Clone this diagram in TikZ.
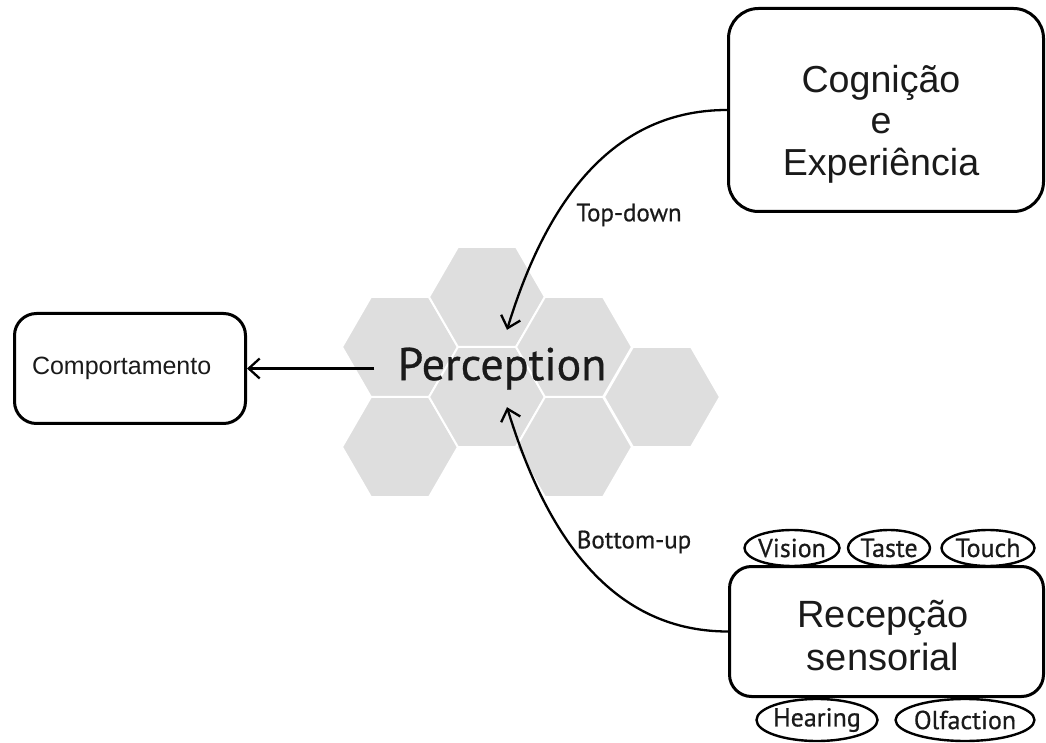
\documentclass[tikz,border=0pt]{standalone}
\usepackage{fontspec}
\setmainfont{Liberation Sans}
\newfontfamily\labelfont[FakeBold=0.6]{PT Sans}
\usetikzlibrary{arrows.meta,shapes.geometric}
\definecolor{hexgray}{RGB}{222,222,222}
\definecolor{ink}{RGB}{26,26,26}
\tikzset{
  bigbox/.style={draw,line width=3pt,rounded corners=30pt,inner sep=0pt},
  boxtext/.style={text=ink,align=center,font=\fontsize{37.6}{41.5}\selectfont},
  sense/.style={draw,ellipse,line width=2.4pt,inner xsep=-2pt,inner ysep=-1pt,minimum height=36pt,fill=white,text=ink,font=\labelfont\fontsize{26}{26}\selectfont},
  arr/.style={line width=2.3pt,-{Straight Barb[length=11pt,width=20pt,line width=2.3pt]}}
}
\begin{document}
\begin{tikzpicture}[x=1pt,y=1pt]
\useasboundingbox (0,0) rectangle (1046,742);
\foreach \cx/\cy in {400/395,400/295,487/445,487/345,574/395,574/295,662/345}
  \filldraw[fill=hexgray,draw=white,line width=2pt] (\cx,\cy) +(0:58) -- +(60:58) -- +(120:58) -- +(180:58) -- +(240:58) -- +(300:58) -- cycle;
\node[text=ink,font=\labelfont\fontsize{46}{46}\selectfont,minimum width=255pt,minimum height=77pt,inner sep=0pt] (perc) at (502,373.5) {Perception};
\node[bigbox,minimum width=315pt,minimum height=203pt] (cogbox) at (886,632) {};
\node[boxtext] (cog) at (881,618) {Cognição\\e\\Experiência};
\node[bigbox,rounded corners=22pt,minimum width=231pt,minimum height=110pt,text width=196pt,inner xsep=17.5pt,align=left,text=ink,font=\fontsize{25}{25}\selectfont] (comp) at (130,373.5) {Comportamento};
\node[bigbox,rounded corners=22pt,minimum width=314pt,minimum height=130pt] (recep) at (886.5,110.5) {};
\node[boxtext,font=\fontsize{38}{43}\selectfont] (receptext) at (883,106) {Recepção\\sensorial};
\node[sense,minimum width=95pt] (vision) at (792,194) {Vision};
\node[sense,minimum width=82pt] (taste) at (889,194) {Taste};
\node[sense,minimum width=93pt] (touch) at (988,194) {Touch};
\node[sense,minimum width=121pt,minimum height=42pt] (hearing) at (817,22) {Hearing};
\node[sense,minimum width=130pt,minimum height=42pt] (olfaction) at (965,22) {Olfaction};
\draw[arr] (perc.west) -- (comp.east);
\draw[arr] (cogbox.west) to[out=180,in=73] ([xshift=5pt]perc.north);
\draw[arr] (recep.west) to[out=180,in=-73] ([xshift=5pt]perc.south);
\node[text=ink,font=\labelfont\fontsize{25}{25}\selectfont] (td) at (629,527) {Top-down};
\node[text=ink,font=\labelfont\fontsize{25}{25}\selectfont] (bu) at (634,200) {Bottom-up};
\end{tikzpicture}
\end{document}
